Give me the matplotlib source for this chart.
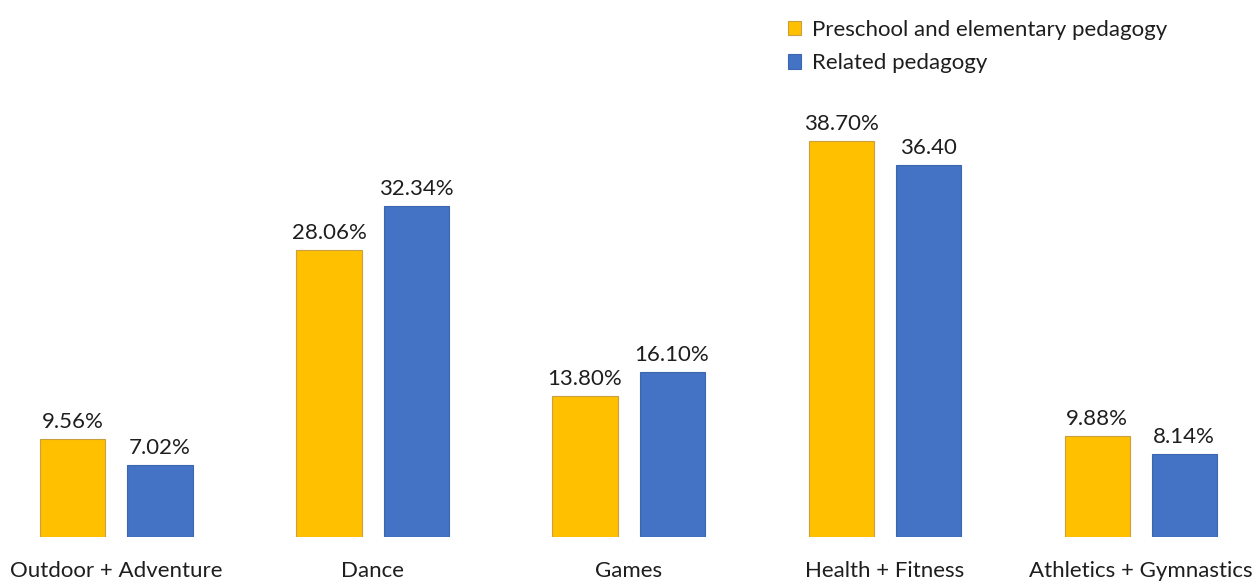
import numpy as np
import matplotlib.pyplot as plt

categories = ['Outdoor + Adventure', 'Dance', 'Games', 'Health + Fitness', 'Athletics + Gymnastics']
preschool = [9.56, 28.06, 13.80, 38.70, 9.88]
related = [7.02, 32.34, 16.10, 36.40, 8.14]
pre_labels = ['9.56%', '28.06%', '13.80%', '38.70%', '9.88%']
rel_labels = ['7.02%', '32.34%', '16.10%', '36.40', '8.14%']

plt.rcParams['font.family'] = ['Lato', 'DejaVu Sans']

fig = plt.figure(figsize=(12.54, 5.81), dpi=100)
ax = fig.add_axes([0, 44 / 581, 1, 537 / 581])

x = np.arange(len(categories))
w = 0.254
off = 0.17
yellow, blue = '#FFC000', '#4472C4'
b1 = ax.bar(x - off, preschool, w, color=yellow, edgecolor='#C9A040', linewidth=0.8,
            label='Preschool and elementary pedagogy')
b2 = ax.bar(x + off, related, w, color=blue, edgecolor='#3D66B0', linewidth=0.8,
            label='Related pedagogy')

txt = '#1e1e1e'
fs = 16
ax.bar_label(b1, labels=pre_labels, padding=5, fontsize=fs, color=txt)
ax.bar_label(b2, labels=rel_labels, padding=5, fontsize=fs, color=txt)

ax.set_xlim(-0.455, 4.443)
ax.set_ylim(0, 52.5)
ax.set_xticks(x)
ax.set_xticklabels(categories, fontsize=fs, color=txt)
ax.tick_params(axis='x', length=0, pad=17)
ax.set_yticks([])
for s in ax.spines.values():
    s.set_visible(False)

ax.legend(loc='upper left', bbox_to_anchor=(768 / 1254, 1.0), bbox_transform=fig.transFigure,
          frameon=False, fontsize=fs, handlelength=0.6, handleheight=0.6, handletextpad=0.5,
          labelspacing=0.6, labelcolor=txt)

fig.savefig('out.png', dpi=100)
